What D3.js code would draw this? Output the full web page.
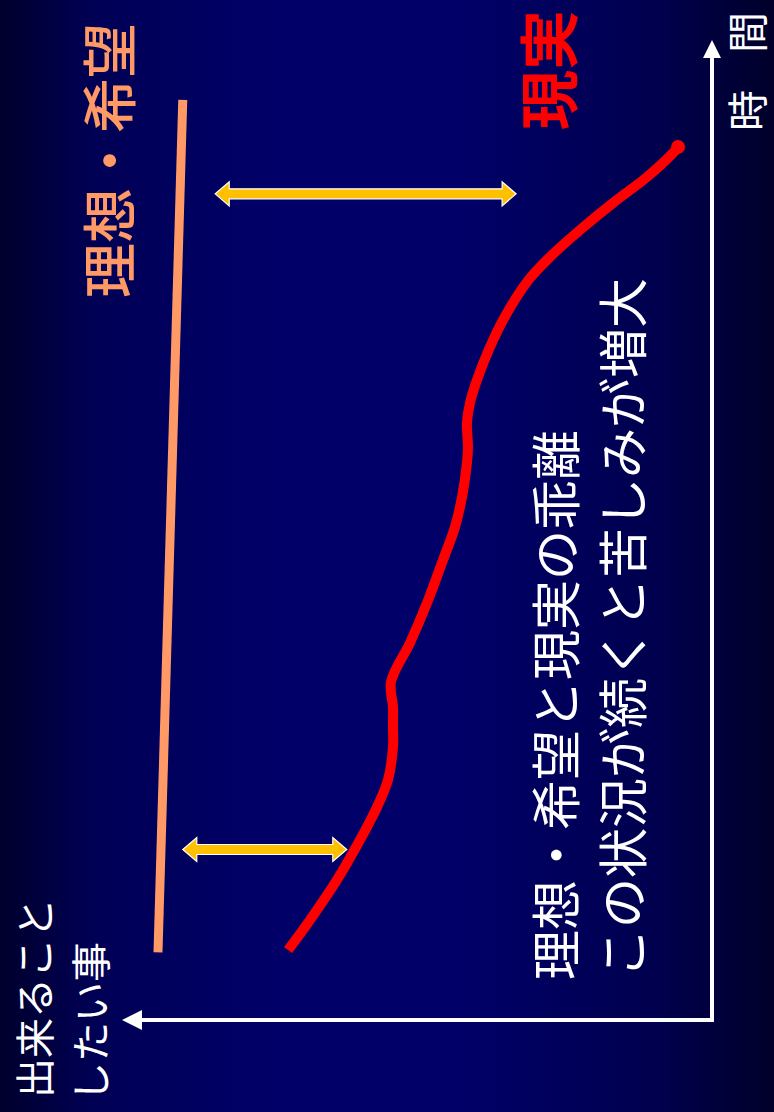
<!DOCTYPE html>
<html><head><meta charset="utf-8">
<script src="https://cdn.jsdelivr.net/npm/d3@7"></script>
<style>html,body{margin:0;padding:0;background:#000044;}svg{display:block;}</style>
</head><body>
<svg id="c" width="774" height="1112"></svg>
<script>
// ---- data (time 0..100, value 0..100) ----
const realityTime  = [7.14, 10.20, 14.29, 18.37, 21.73, 24.49, 27.86, 29.90, 31.94, 34.49, 38.47, 42.55, 46.94, 50.31, 53.37, 56.84, 58.47, 60.92, 62.96, 65.31, 68.67, 72.14, 75.51, 77.86, 80.61, 83.37, 86.02, 88.47, 89.08];
const realityValue = [71.86, 68.14, 63.56, 59.66, 56.78, 54.92, 54.07, 54.07, 54.07, 54.41, 51.19, 48.31, 45.59, 43.56, 42.37, 41.53, 41.36, 41.53, 41.02, 39.83, 37.63, 34.75, 31.10, 27.46, 22.37, 16.78, 11.02, 6.61, 5.76];
const idealTime  = [6.9, 93.9];
const idealValue = [93.9, 89.7];
const gapTime = [17.4, 84.3];
const gapFrom = [89.7, 84.2];
const gapTo   = [61.9, 33.2];
const labelIdeal = "理想・希望";
const labelReality = "現実";
const labelTime = ["時", "間"];
const labelValue = ["出来ること", "したい事"];
const message = ["理想・希望と現実の乖離", "この状況が続くと苦しみが増大"];

const W = 774, H = 1112;
const svg = d3.select("#c");
const defs = svg.append("defs");
const bg = defs.append("linearGradient").attr("id","bg").attr("x1","0").attr("x2","1").attr("y1","0").attr("y2","0");
[[0,"#00002c"],[0.12,"#000055"],[0.35,"#000068"],[0.6,"#000068"],[0.85,"#00004e"],[1,"#00002a"]]
  .forEach(([o,c])=>bg.append("stop").attr("offset",o).attr("stop-color",c));
svg.append("rect").attr("width",W).attr("height",H).attr("fill","url(#bg)");

// landscape group rotated -90deg
const g = svg.append("g").attr("transform",`translate(0,${H}) rotate(-90)`);
const x = d3.scaleLinear().domain([0,100]).range([92,1072]);
const y = d3.scaleLinear().domain([0,100]).range([712,122]);
const font = "'Noto Sans CJK JP','Noto Sans',sans-serif";

// axes
g.append("line").attr("x1",x(0)).attr("y1",y(0)).attr("x2",x(100)-16).attr("y2",y(0))
  .attr("stroke","#fff").attr("stroke-width",4);
g.append("line").attr("x1",x(0)).attr("y1",y(0)+2).attr("x2",x(0)).attr("y2",y(100)+18)
  .attr("stroke","#fff").attr("stroke-width",4);
g.append("path").attr("d",`M${x(100)},${y(0)} L${x(100)-18},${y(0)-9} L${x(100)-18},${y(0)+9}Z`).attr("fill","#fff");
g.append("path").attr("d",`M${x(0)},${y(100)} L${x(0)-10},${y(100)+20} L${x(0)+10},${y(100)+20}Z`).attr("fill","#fff");

// ideal line
g.append("path").datum(idealTime.map((t,i)=>[t,idealValue[i]]))
  .attr("d",d3.line().x(d=>x(d[0])).y(d=>y(d[1])))
  .attr("fill","none").attr("stroke","#FF9966").attr("stroke-width",9);

// reality curve
g.append("path").datum(realityTime.map((t,i)=>[t,realityValue[i]]))
  .attr("d",d3.line().x(d=>x(d[0])).y(d=>y(d[1])).curve(d3.curveCatmullRom.alpha(0.5)))
  .attr("fill","none").attr("stroke","#FF0000").attr("stroke-width",10).attr("stroke-linejoin","round");
// rounded end blob
const lt = realityTime[realityTime.length-1], lv = realityValue[realityValue.length-1];
g.append("circle").attr("cx",x(lt)).attr("cy",y(lv)).attr("r",7).attr("fill","#FF0000");

// gap double arrows
gapTime.forEach((t,i)=>{
  const cx = x(t), y1 = y(gapFrom[i]), y2 = y(gapTo[i]);
  const hw = 12, sw = 5, hl = 14;
  const d = `M${cx},${y1} L${cx-hw},${y1+hl} L${cx-sw},${y1+hl} L${cx-sw},${y2-hl} L${cx-hw},${y2-hl} L${cx},${y2} L${cx+hw},${y2-hl} L${cx+sw},${y2-hl} L${cx+sw},${y1+hl} L${cx+hw},${y1+hl}Z`;
  g.append("path").attr("d",d).attr("fill","#FFC000").attr("stroke","#ffffff").attr("stroke-width",1.2);
});

// texts
function txt(s,lx,ly,size,color,weight){
  return g.append("text").attr("x",lx).attr("y",ly).attr("dominant-baseline","central")
    .attr("font-family",font).attr("font-size",size).attr("fill",color)
    .attr("font-weight",weight||"normal").text(s);
}
txt(labelIdeal, 814, 106, 55, "#FF9966", "500");
txt(labelReality, 982, 545, 60, "#FF0000", "bold");
txt(labelTime[0], 981, 745, 41, "#ffffff");
txt(labelTime[1], 1059, 745, 41, "#ffffff");
txt(labelValue[0], 14, 33, 40, "#ffffff");
txt(labelValue[1], 10, 89, 40, "#ffffff");
txt(message[0], 132, 553, 50, "#ffffff");
txt(message[1], 134, 620, 50, "#ffffff");
</script>
</body></html>
